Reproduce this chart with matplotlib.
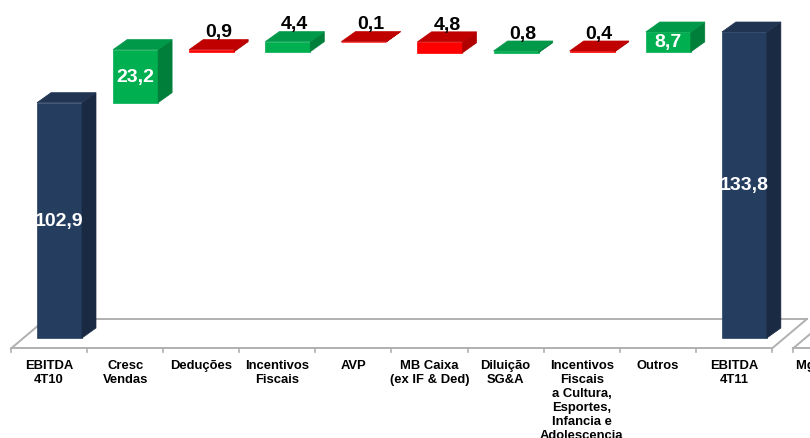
import matplotlib
matplotlib.use("Agg")
import matplotlib.pyplot as plt
from matplotlib.patches import Polygon

plt.rcParams['font.family'] = ['Liberation Sans', 'DejaVu Sans']

# EBITDA bridge 4T10 -> 4T11 (R$ milhões)
categories = [
    "EBITDA\n4T10", "Cresc\nVendas", "Deduções", "Incentivos\nFiscais", "AVP",
    "MB Caixa\n(ex IF & Ded)", "Diluição\nSG&A",
    "Incentivos\nFiscais\na Cultura,\nEsportes,\nInfancia e\nAdolescencia",
    "Outros", "EBITDA\n4T11",
]
values = [102.9, 23.2, -0.9, 4.4, -0.1, -4.8, 0.8, -0.4, 8.7, 133.8]
is_total = [True, False, False, False, False, False, False, False, False, True]
next_panel_label = "Mg EBITDA"

# face colours (front, top, side)
NAVY = ("#253e60", "#213553", "#1b2a43")
GREEN = ("#00b050", "#00994a", "#007f3b")
RED = ("#ff0000", "#c00000", "#b00000")

fig = plt.figure(figsize=(8.1, 4.39), dpi=100)
ax = fig.add_axes([0, 0, 1, 1])
ax.set_xlim(-0.6445, 10.0)
ax.set_ylim(-43.73, 148.23)
ax.axis("off")

# pseudo-3D geometry (data units)
front_off = -0.158      # front face left edge relative to category centre
bar_w = 0.591           # front face width
ddx, ddy = 0.184, 4.37  # bar depth offset
floor_front, floor_back = -4.59, 8.31
floor_dx = 0.46
floor_col = "#b0b0b0"
label_kw = dict(va="top", fontsize=9.4, fontweight="bold", color="black", linespacing=1.22)

n = len(categories)
left_edge, right_edge = -0.5, n - 0.5

# floor outline
ax.plot([left_edge, right_edge], [floor_front, floor_front], color=floor_col, lw=1.4, zorder=1,
        solid_capstyle="butt")
ax.plot([left_edge + floor_dx, right_edge + floor_dx], [floor_back, floor_back],
        color=floor_col, lw=1.4, zorder=1)
for xe in (left_edge, right_edge):
    ax.plot([xe, xe + floor_dx], [floor_front, floor_back], color=floor_col, lw=1.4, zorder=1)
for k in range(n + 1):
    xe = left_edge + k
    ax.plot([xe, xe], [floor_front, floor_front - 1.6], color=floor_col, lw=1.2, zorder=1)

# start of the neighbouring panel
nx0 = right_edge + 0.276
ax.plot([nx0, nx0 + 1], [floor_front, floor_front], color=floor_col, lw=1.4, zorder=1)
ax.plot([nx0, nx0 + floor_dx], [floor_front, floor_back], color=floor_col, lw=1.4, zorder=1)
ax.plot([nx0, nx0], [floor_front, floor_front - 1.6], color=floor_col, lw=1.2, zorder=1)
ax.text(nx0 + 0.04, -9.2, next_panel_label, ha="left", **label_kw)


def box(x0, y0, y1, cols, z):
    x1 = x0 + bar_w
    front = Polygon([(x0, y0), (x1, y0), (x1, y1), (x0, y1)], closed=True,
                    facecolor=cols[0], edgecolor=cols[0], lw=0.5, zorder=z)
    top = Polygon([(x0, y1), (x1, y1), (x1 + ddx, y1 + ddy), (x0 + ddx, y1 + ddy)], closed=True,
                  facecolor=cols[1], edgecolor=cols[1], lw=0.5, zorder=z)
    side = Polygon([(x1, y0), (x1 + ddx, y0 + ddy), (x1 + ddx, y1 + ddy), (x1, y1)], closed=True,
                   facecolor=cols[2], edgecolor=cols[2], lw=0.5, zorder=z)
    for p in (front, side, top):
        ax.add_patch(p)


running = 0.0
for i, (cat, v, tot) in enumerate(zip(categories, values, is_total)):
    if tot:
        base, top_v = 0.0, v
        cols = NAVY
        running = v
    else:
        base = running
        running = running + v
        top_v = running
        cols = GREEN if v > 0 else RED
    lo, hi = min(base, top_v), max(base, top_v)
    x0 = i + front_off
    box(x0, lo, hi, cols, 2 + i * 0.01)

    txt = f"{abs(v):.1f}".replace(".", ",")
    if abs(v) > 5:
        ax.text(x0 + bar_w / 2, (lo + hi) / 2, txt, ha="center", va="center", fontsize=14,
                fontweight="bold", color="white", zorder=5)
    else:
        ax.text(x0 + (bar_w + ddx) / 2, hi + ddy - 0.3, txt, ha="center", va="bottom",
                fontsize=14, fontweight="bold", color="black", zorder=5)

    ax.text(i, -9.2, cat, ha="center", **label_kw)

fig.savefig("out.png", dpi=100)
